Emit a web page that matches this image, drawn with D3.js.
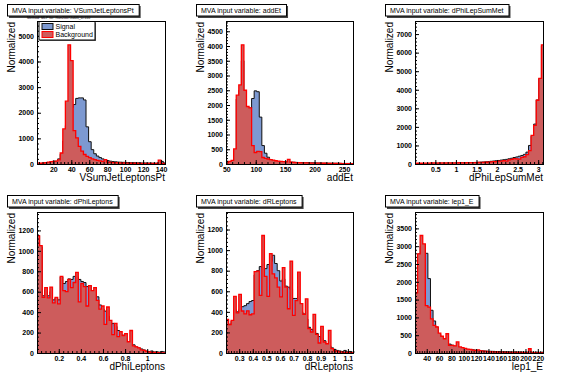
<!DOCTYPE html>
<html>
<head>
<meta charset="utf-8">
<script src="https://cdn.jsdelivr.net/npm/d3@7"></script>
<style>
  body { margin: 0; background: #fff; }
  svg text { font-family: "Liberation Sans", Arial, Helvetica, sans-serif; fill: #000; }
</style>
</head>
<body>
<svg id="canvas" width="567" height="379"></svg>
<script>
// histogram contents, 50 bins each
const vsumRange = [1.8, 145.5];
const vsumSig = [20, 20, 30, 40, 50, 60, 80, 110, 200, 380, 900, 1500, 2000, 2200, 2320, 2560, 2580, 2580, 2500, 1450,
  870, 560, 400, 310, 250, 200, 160, 130, 110, 95, 85, 75, 70, 65, 60, 55, 50, 50, 45, 45,
  40, 40, 35, 35, 30, 30, 30, 35, 100, 30];
const vsumBkg = [40, 30, 40, 50, 70, 90, 100, 110, 160, 430, 1370, 2450, 4650, 4030, 1300, 1020, 690, 500, 370, 300,
  250, 200, 170, 140, 120, 100, 170, 70, 60, 55, 50, 45, 40, 40, 35, 35, 30, 30, 30, 28,
  25, 25, 25, 22, 20, 20, 20, 150, 25, 20];

const addEtRange = [49.5, 267];
const addEtSig = [10, 30, 60, 400, 2200, 2500, 3500, 2400, 1850, 1900, 2220, 2480, 2450, 1590, 625, 365, 230, 150, 110, 95,
  85, 80, 75, 70, 65, 62, 60, 55, 50, 50, 45, 45, 40, 40, 40, 35, 35, 30, 30, 30,
  28, 25, 25, 25, 22, 20, 20, 20, 18, 18];
const addEtBkg = [40, 90, 120, 510, 2335, 2680, 4040, 2500, 1950, 1900, 620, 390, 430, 420, 220, 190, 170, 150, 130, 110,
  100, 90, 80, 70, 160, 60, 55, 50, 45, 40, 40, 35, 35, 30, 30, 30, 28, 25, 25, 22,
  20, 20, 20, 18, 18, 15, 15, 15, 12, 12];

const dPhiLSMRange = [0.005, 3.1416];
const dPhiLSMSig = [20, 22, 25, 25, 28, 30, 30, 32, 35, 35, 38, 40, 42, 45, 48, 50, 55, 58, 62, 66,
  70, 75, 80, 85, 90, 100, 110, 120, 130, 145, 160, 175, 190, 210, 230, 250, 280, 310, 350, 380,
  420, 460, 520, 640, 1000, 1500, 2150, 3450, 4600, 6350];
const dPhiLSMBkg = [40, 45, 40, 50, 45, 50, 55, 60, 50, 55, 60, 55, 60, 65, 55, 60, 65, 70, 60, 65,
  70, 75, 70, 75, 80, 85, 90, 95, 100, 110, 120, 130, 150, 160, 180, 150, 220, 250, 290, 280,
  260, 360, 390, 500, 720, 1540, 2080, 3435, 4610, 6420];

const dPhiLepRange = [0.003, 1.17];
const dPhiLepSig = [1150, 1040, 560, 620, 560, 600, 520, 540, 520, 745, 680, 700, 725, 720, 750, 745, 720, 700, 690, 650,
  660, 610, 580, 550, 470, 430, 410, 360, 280, 290, 260, 220, 180, 175, 130, 110, 90, 80, 60, 50,
  40, 30, 20, 15, 20, 10, 12, 8, 15, 10];
const dPhiLepBkg = [1146, 1050, 545, 640, 540, 645, 490, 545, 480, 750, 610, 600, 720, 640, 690, 790, 500, 680, 650, 460,
  660, 610, 640, 515, 430, 460, 280, 450, 320, 180, 290, 160, 210, 170, 190, 110, 220, 70, 60, 50,
  30, 25, 15, 10, 5, 5, 3, 2, 2, 2];

const dRLepRange = [0.203, 1.145];
const dRLepSig = [320, 280, 310, 420, 400, 420, 450, 460, 480, 500, 510, 760, 800, 840, 830, 820, 860, 890, 950, 870,
  800, 700, 720, 650, 640, 620, 530, 530, 480, 400, 380, 330, 250, 230, 210, 190, 160, 140, 120, 90,
  70, 50, 35, 25, 20, 15, 25, 10, 15, 8];
const dRLepBkg = [327, 275, 317, 550, 390, 570, 408, 380, 410, 372, 380, 790, 795, 560, 1142, 745, 550, 965, 770, 730,
  640, 545, 830, 640, 430, 893, 365, 510, 786, 479, 375, 527, 236, 204, 375, 181, 97, 259, 107, 90,
  220, 42, 20, 15, 10, 8, 5, 5, 3, 3];

const lep1ERange = [21, 230];
const lep1ESig = [1700, 2780, 3000, 3030, 2800, 2090, 1200, 900, 730, 520, 440, 380, 300, 250, 220, 190, 170, 150, 140, 120,
  100, 90, 90, 80, 70, 65, 60, 55, 50, 48, 45, 42, 40, 38, 35, 35, 32, 30, 30, 28,
  28, 25, 25, 22, 30, 20, 20, 18, 18, 15];
const lep1EBkg = [1690, 2785, 3300, 3065, 1330, 1290, 960, 775, 730, 560, 470, 400, 540, 215, 215, 200, 310, 170, 150, 130,
  110, 100, 80, 70, 90, 60, 50, 45, 40, 35, 30, 28, 25, 25, 22, 20, 20, 18, 18, 15,
  15, 15, 12, 12, 120, 10, 10, 8, 8, 8];

const legendLabels = ["Signal", "Background"];

const sigFill = "#7d99d1", sigLine = "#101010";
const bkgFill = "#cd5c5c", bkgLine = "#ff0000";

// one entry per pad: frame position and tick counts
const panels = [
  {name: "VSumJetLeptonsPt", sig: vsumSig, bkg: vsumBkg, range: vsumRange, fx: 37, fy: 21, fw: 129, fh: 143, xn: 8, yn: 6},
  {name: "addEt", sig: addEtSig, bkg: addEtBkg, range: addEtRange, fx: 226, fy: 21, fw: 128, fh: 143, xn: 5, yn: 10},
  {name: "dPhiLepSumMet", sig: dPhiLSMSig, bkg: dPhiLSMBkg, range: dPhiLSMRange, fx: 415, fy: 21, fw: 129, fh: 143, xn: 7, yn: 8},
  {name: "dPhiLeptons", sig: dPhiLepSig, bkg: dPhiLepBkg, range: dPhiLepRange, fx: 37, fy: 212, fw: 129, fh: 141, xn: 6, yn: 7},
  {name: "dRLeptons", sig: dRLepSig, bkg: dRLepBkg, range: dRLepRange, fx: 226, fy: 212, fw: 128, fh: 141, xn: 10, yn: 7},
  {name: "lep1_E", sig: lep1ESig, bkg: lep1EBkg, range: lep1ERange, fx: 415, fy: 212, fw: 129, fh: 141, xn: 10, yn: 8}
];

const svg = d3.select("#canvas");
svg.append("rect").attr("width", 567).attr("height", 379).attr("fill", "#fff");

const fmt = d3.format("~g");

function stepPoints(vals, lo, hi) {
  // bin lower edges, plus the last upper edge
  const w = (hi - lo) / vals.length;
  const pts = vals.map((v, i) => [lo + i * w, v]);
  pts.push([hi, vals[vals.length - 1]]);
  return pts;
}

function minorTicks(lo, hi, step) {
  const ms = step / 5;
  return d3.range(Math.ceil(lo / ms - 1e-9), Math.floor(hi / ms + 1e-9) + 1)
    .map(k => +(k * ms).toPrecision(10))
    .filter(v => v >= lo && v <= hi);
}

panels.forEach((p, idx) => {
  const [lo, hi] = p.range;
  const ymax = 1.2 * d3.max(p.sig.concat(p.bkg));
  const x = d3.scaleLinear().domain([lo, hi]).range([0, p.fw]);
  const y = d3.scaleLinear().domain([0, ymax]).range([p.fh, 0]);

  const g = svg.append("g").attr("transform", `translate(${p.fx},${p.fy})`);

  const clipId = "clip" + idx;
  g.append("clipPath").attr("id", clipId)
    .append("rect").attr("width", p.fw).attr("height", p.fh);

  const area = d3.area()
    .x(d => x(d[0])).y0(y(0)).y1(d => y(d[1]))
    .curve(d3.curveStepAfter);
  const line = d3.line()
    .x(d => x(d[0])).y(d => y(d[1]))
    .curve(d3.curveStepAfter);

  const hg = g.append("g").attr("clip-path", `url(#${clipId})`);
  const sp = stepPoints(p.sig, lo, hi);
  const bp = stepPoints(p.bkg, lo, hi);

  hg.append("path").attr("d", area(sp)).attr("fill", sigFill);
  hg.append("path").attr("d", line([[lo, 0]].concat(sp, [[hi, 0]])))
    .attr("fill", "none").attr("stroke", sigLine).attr("stroke-width", 1);
  hg.append("path").attr("d", area(bp)).attr("fill", bkgFill);
  hg.append("path").attr("d", line([[lo, 0]].concat(bp, [[hi, 0]])))
    .attr("fill", "none").attr("stroke", bkgLine).attr("stroke-width", 1.3);

  // axes, ticks pointing into the frame like ROOT
  const xStep = d3.tickStep(lo, hi, p.xn);
  const yStep = d3.tickStep(0, ymax, p.yn);

  const xa = g.append("g").attr("transform", `translate(0,${p.fh})`)
    .call(d3.axisBottom(x).tickValues(x.ticks(p.xn)).tickSize(-4).tickPadding(3).tickFormat(fmt));
  g.append("g").attr("transform", `translate(0,${p.fh})`)
    .call(d3.axisBottom(x).tickValues(minorTicks(lo, hi, xStep)).tickSize(-2).tickFormat(""));
  const ya = g.append("g")
    .call(d3.axisLeft(y).tickValues(y.ticks(p.yn)).tickSize(-4).tickPadding(3).tickFormat(fmt));
  g.append("g")
    .call(d3.axisLeft(y).tickValues(minorTicks(0, ymax, yStep)).tickSize(-2).tickFormat(""));

  g.selectAll(".domain").remove();
  g.selectAll(".tick line").attr("stroke", "#000").attr("stroke-width", 1);
  xa.selectAll("text").attr("font-size", 7).attr("font-weight", "bold");
  ya.selectAll("text").attr("font-size", 7).attr("font-weight", "bold");

  g.append("rect").attr("x", 0.5).attr("y", 0.5).attr("width", p.fw - 1).attr("height", p.fh)
    .attr("fill", "none").attr("stroke", "#000").attr("stroke-width", 1);

  // axis titles
  g.append("text").attr("x", p.fw - 1).attr("y", p.fh + 17)
    .attr("text-anchor", "end").attr("font-size", 10).text(p.name);
  g.append("text").attr("transform", `translate(-22,1) rotate(-90)`)
    .attr("text-anchor", "end").attr("font-size", 10).text("Normalized");

  // title box with shadow
  const tg = svg.append("g").attr("transform", `translate(${p.fx - 30},${p.fy - 17})`);
  const tt = tg.append("text").attr("x", 5).attr("y", 9).attr("font-size", 7)
    .text("MVA input variable: " + p.name);
  const tw = tt.node().getComputedTextLength() + 10;
  tg.insert("rect", "text").attr("x", 2).attr("y", 2).attr("width", tw).attr("height", 12).attr("fill", "#444");
  tg.insert("rect", "text").attr("x", 0.5).attr("y", 0.5).attr("width", tw).attr("height", 11.5)
    .attr("fill", "#fff").attr("stroke", "#000");

  if (idx === 0) {
    svg.append("text").attr("x", 27).attr("y", 19).attr("font-size", 3.6).attr("fill", "#333")
      .text("Method: MLP for: Run2007Jul05_D-110");
    const lg = svg.append("g").attr("transform", `translate(${p.fx + 1.5},${p.fy})`);
    lg.append("rect").attr("x", 1.5).attr("y", 1.5).attr("width", 56).attr("height", 18.5).attr("fill", "#666");
    lg.append("rect").attr("x", 0.5).attr("y", 0.5).attr("width", 56).attr("height", 18.5)
      .attr("fill", "#fff").attr("stroke", "#000");
    legendLabels.forEach((lab, k) => {
      lg.append("rect").attr("x", 3.5).attr("y", 2.5 + k * 8).attr("width", 11).attr("height", 6)
        .attr("fill", k === 0 ? sigFill : bkgFill)
        .attr("stroke", k === 0 ? sigLine : bkgLine);
      lg.append("text").attr("x", 17).attr("y", 8 + k * 8).attr("font-size", 7).text(lab);
    });
  }
});
</script>
</body>
</html>
